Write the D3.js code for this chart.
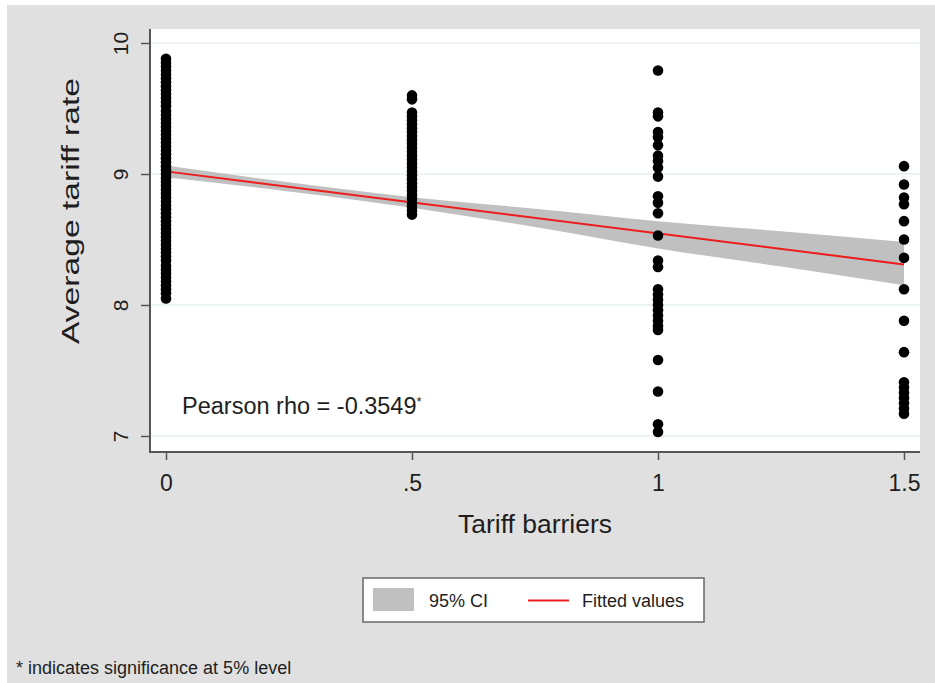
<!DOCTYPE html>
<html>
<head>
<meta charset="utf-8">
<script src="https://cdn.jsdelivr.net/npm/d3@7"></script>
<style>
  html, body { margin: 0; padding: 0; background: #ffffff; }
  svg { display: block; }
  text { font-family: "Liberation Sans", Arial, sans-serif; fill: #1e1e1e; }
</style>
</head>
<body>
<svg id="chart" width="935" height="683"></svg>
<script>
// Tariff barriers (x) and the observed average tariff rates at each level
const barrierLevels = [0, 0.5, 1, 1.5];
const rates0 = [9.88, 9.85, 9.82, 9.79, 9.76, 9.73, 9.70, 9.67, 9.64, 9.61, 9.58, 9.55, 9.52,
  9.48, 9.45, 9.42, 9.39, 9.36, 9.33, 9.30, 9.27, 9.24, 9.21, 9.18, 9.15, 9.12, 9.09, 9.06,
  9.03, 9.00, 8.97, 8.94, 8.91, 8.88, 8.85, 8.82, 8.79, 8.76, 8.73, 8.70, 8.67, 8.64, 8.61,
  8.58, 8.55, 8.52, 8.49, 8.46, 8.43, 8.40, 8.37, 8.34, 8.30, 8.27, 8.24, 8.21, 8.18, 8.15,
  8.12, 8.09, 8.05];
const rates05 = [9.60, 9.57, 9.47, 9.44, 9.41, 9.38, 9.35, 9.32, 9.29, 9.26, 9.23, 9.20, 9.17,
  9.14, 9.11, 9.08, 9.05, 9.02, 8.99, 8.96, 8.93, 8.90, 8.87, 8.84, 8.81, 8.78, 8.75, 8.72, 8.69];
const rates1 = [9.79, 9.47, 9.44, 9.32, 9.28, 9.22, 9.14, 9.10, 9.05, 8.98, 8.83, 8.78, 8.70,
  8.53, 8.34, 8.29, 8.12, 8.08, 8.04, 8.00, 7.96, 7.92, 7.88, 7.84, 7.81, 7.58, 7.34, 7.09, 7.03];
const rates15 = [9.06, 8.92, 8.82, 8.77, 8.64, 8.50, 8.36, 8.12, 7.88, 7.64, 7.41, 7.37, 7.33,
  7.29, 7.25, 7.21, 7.17];
const ratesByLevel = [rates0, rates05, rates1, rates15];

// Fitted regression line and its 95% confidence band
const fitX = [0, 1.5];
const fitY = [9.02, 8.31];
const ciX = [0, 0.25, 0.5, 0.75, 1, 1.25, 1.5];
const ciLow = [8.975, 8.867, 8.743, 8.595, 8.432, 8.293, 8.15];
const ciHigh = [9.065, 8.937, 8.823, 8.735, 8.64, 8.563, 8.48];

// Axis ticks
const xTicks = [0, 0.5, 1, 1.5];
const xTickLabels = ["0", ".5", "1", "1.5"];
const yTicks = [7, 8, 9, 10];

const rhoLabel = "Pearson rho = -0.3549";
const footnote = "* indicates significance at 5% level";

const svg = d3.select("#chart");

// Outer gray panel
svg.append("rect").attr("x", 7).attr("y", 5).attr("width", 928).attr("height", 678)
  .attr("fill", "#e0e0e0");

const plot = { left: 150, top: 29, right: 920, bottom: 452 };
const x = d3.scaleLinear().domain([0, 1.5]).range([166, 904]);
const y = d3.scaleLinear().domain([7, 10]).range([436, 43]);

// Plot region
svg.append("rect").attr("x", plot.left).attr("y", plot.top)
  .attr("width", plot.right - plot.left).attr("height", plot.bottom - plot.top)
  .attr("fill", "#ffffff");

// Horizontal grid lines
svg.append("g").selectAll("line").data(yTicks).join("line")
  .attr("x1", plot.left).attr("x2", plot.right)
  .attr("y1", d => y(d)).attr("y2", d => y(d))
  .attr("stroke", "#e6eff1").attr("stroke-width", 1.5);

// Confidence band
const band = d3.area()
  .x((d, i) => x(ciX[i]))
  .y0((d, i) => y(ciLow[i]))
  .y1((d, i) => y(ciHigh[i]))
  .curve(d3.curveMonotoneX);
svg.append("path").datum(ciX).attr("d", band).attr("fill", "#c0c0c0");

// Fitted values
svg.append("path")
  .datum(fitX.map((v, i) => [v, fitY[i]]))
  .attr("d", d3.line().x(d => x(d[0])).y(d => y(d[1])))
  .attr("fill", "none").attr("stroke", "#ee1c1c").attr("stroke-width", 2);

// Scatter points
const points = [];
barrierLevels.forEach((lvl, i) => ratesByLevel[i].forEach(r => points.push([lvl, r])));
svg.append("g").selectAll("circle").data(points).join("circle")
  .attr("cx", d => x(d[0])).attr("cy", d => y(d[1])).attr("r", 5.3)
  .attr("fill", "#000000");

// Y axis
const yAxis = d3.axisLeft(y).tickValues(yTicks).tickSize(9).tickFormat(d3.format("d"));
const gy = svg.append("g").attr("transform", `translate(${plot.left},0)`).call(yAxis);
gy.select(".domain").remove();
gy.selectAll(".tick line").attr("stroke", "#555").attr("stroke-width", 1.5);
gy.selectAll(".tick text")
  .attr("x", null).attr("dy", null)
  .attr("transform", "translate(-22,0) rotate(-90)")
  .attr("text-anchor", "middle")
  .attr("font-size", 21).attr("fill", "#1e1e1e");

// X axis
const xAxis = d3.axisBottom(x).tickValues(xTicks).tickSize(8)
  .tickFormat((d, i) => xTickLabels[i]);
const gx = svg.append("g").attr("transform", `translate(0,${plot.bottom})`).call(xAxis);
gx.select(".domain").remove();
gx.selectAll(".tick line").attr("stroke", "#555").attr("stroke-width", 1.5);
gx.selectAll(".tick text").attr("y", 39).attr("dy", null)
  .attr("font-size", 23).attr("fill", "#1e1e1e");

// Axis lines (full plot-region extent)
svg.append("path")
  .attr("d", `M${plot.left},${plot.top}V${plot.bottom}H${plot.right}`)
  .attr("fill", "none").attr("stroke", "#555").attr("stroke-width", 2);

// Axis titles
svg.append("text").attr("x", 535).attr("y", 533).attr("text-anchor", "middle")
  .attr("font-size", 25).attr("textLength", 154).attr("lengthAdjust", "spacingAndGlyphs")
  .text("Tariff barriers");
svg.append("text").attr("transform", "translate(79,211) rotate(-90)")
  .attr("text-anchor", "middle").attr("font-size", 23)
  .attr("textLength", 266).attr("lengthAdjust", "spacingAndGlyphs")
  .text("Average tariff rate");

// Correlation annotation
const rho = svg.append("text").attr("x", 182).attr("y", 414).attr("font-size", 23.5);
rho.append("tspan").text(rhoLabel);
rho.append("tspan").attr("font-size", 13).attr("dy", -8).text("*");

// Legend
const lg = svg.append("g");
lg.append("rect").attr("x", 363).attr("y", 578).attr("width", 341).attr("height", 44)
  .attr("fill", "#ffffff").attr("stroke", "#666").attr("stroke-width", 1.5);
lg.append("rect").attr("x", 373).attr("y", 588).attr("width", 41).attr("height", 23)
  .attr("fill", "#c0c0c0");
lg.append("text").attr("x", 429).attr("y", 607).attr("font-size", 18).text("95% CI");
lg.append("line").attr("x1", 528).attr("x2", 569).attr("y1", 600.5).attr("y2", 600.5)
  .attr("stroke", "#ee1c1c").attr("stroke-width", 2);
lg.append("text").attr("x", 582).attr("y", 607).attr("font-size", 18).text("Fitted values");

// Footnote
svg.append("text").attr("x", 16).attr("y", 674).attr("font-size", 18).text(footnote);
</script>
</body>
</html>
